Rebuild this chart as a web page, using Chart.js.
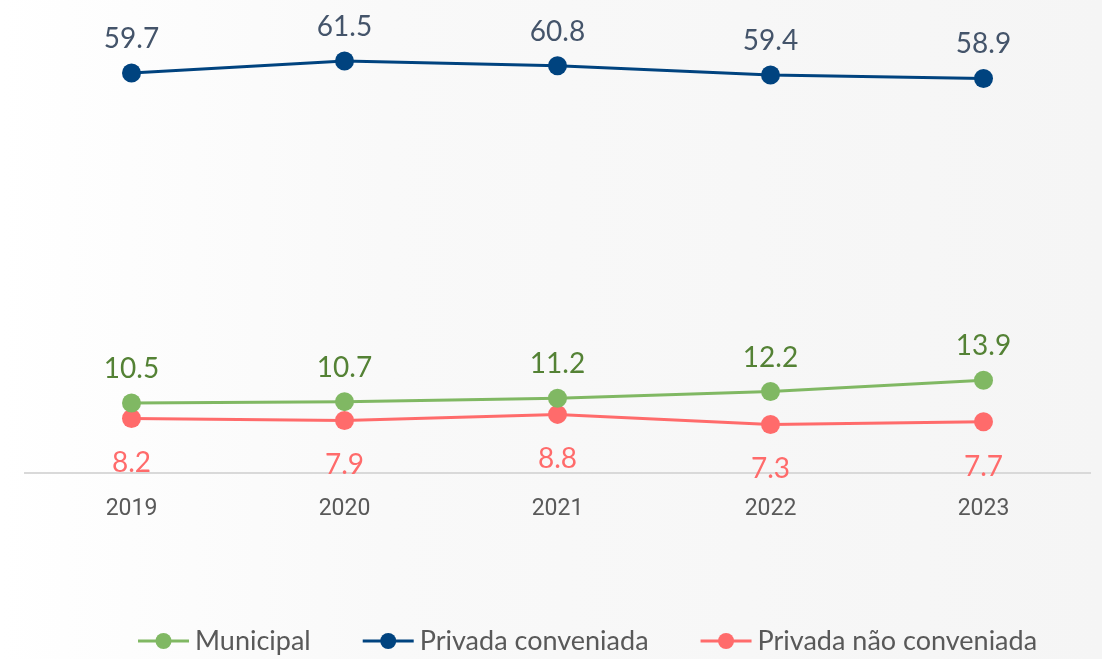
<!DOCTYPE html>
<html>
<head>
<meta charset="utf-8">
<script src="https://cdn.jsdelivr.net/npm/chart.js@4"></script>
<style>
  html, body { margin: 0; padding: 0; }
  body { width: 1102px; height: 659px; background: linear-gradient(90deg, #ffffff 0%, #f9f9f9 35%, #f5f5f5 100%); }
  #wrap { position: relative; width: 1102px; height: 659px; }
</style>
</head>
<body>
<div id="wrap"><canvas id="chart"></canvas></div>
<script>
const years = ['2019', '2020', '2021', '2022', '2023'];
const municipal = [10.5, 10.7, 11.2, 12.2, 13.9];
const privadaConveniada = [59.7, 61.5, 60.8, 59.4, 58.9];
const privadaNaoConveniada = [8.2, 7.9, 8.8, 7.3, 7.7];

const series = [
  { label: 'Municipal', data: municipal, line: '#80b863', text: '#548235', above: true },
  { label: 'Privada conveniada', data: privadaConveniada, line: '#00437f', text: '#44546a', above: true },
  { label: 'Privada não conveniada', data: privadaNaoConveniada, line: '#ff6b6b', text: '#ff6b6b', above: false },
];

// value labels above / below each point
const valueLabels = {
  id: 'valueLabels',
  afterDatasetsDraw(chart) {
    const { ctx } = chart;
    ctx.save();
    ctx.font = '28px Lato, "Open Sans", sans-serif';
    ctx.textAlign = 'center';
    ctx.textBaseline = 'middle';
    chart.data.datasets.forEach((ds, i) => {
      const meta = chart.getDatasetMeta(i);
      ctx.fillStyle = series[i].text;
      meta.data.forEach((pt, j) => {
        const y = series[i].above ? pt.y - 34 : pt.y + 45;
        ctx.fillText(ds.data[j].toFixed(1), pt.x, y);
      });
    });
    ctx.restore();
  },
};

// legend drawn as line + dot markers at the bottom
const lineLegend = {
  id: 'lineLegend',
  afterDraw(chart) {
    const { ctx } = chart;
    ctx.save();
    ctx.font = '27px Lato, "Open Sans", sans-serif';
    ctx.textBaseline = 'middle';
    let x = 138;
    const y = 641;
    series.forEach((s) => {
      ctx.strokeStyle = s.line;
      ctx.lineWidth = 3;
      ctx.beginPath();
      ctx.moveTo(x, y);
      ctx.lineTo(x + 51, y);
      ctx.stroke();
      ctx.fillStyle = s.line;
      ctx.beginPath();
      ctx.arc(x + 25.5, y, 8, 0, Math.PI * 2);
      ctx.fill();
      ctx.fillStyle = '#595959';
      ctx.fillText(s.label, x + 57, y);
      x += 57 + ctx.measureText(s.label).width + 52;
    });
    ctx.restore();
  },
};

const config = {
  type: 'line',
  data: {
    labels: years,
    datasets: series.map((s) => ({
      label: s.label,
      data: s.data,
      borderColor: s.line,
      backgroundColor: s.line,
      borderWidth: 3,
      pointRadius: 9.5,
      pointHoverRadius: 9.5,
      pointBorderWidth: 0,
      tension: 0,
    })),
  },
  options: {
    responsive: true,
    maintainAspectRatio: false,
    animation: false,
    layout: {
      autoPadding: false,
      padding: { top: 4, left: 25, right: 12, bottom: 122 },
    },
    scales: {
      x: {
        offset: true,
        grid: { display: false },
        border: { display: true, color: '#d9d9d9', width: 2 },
        ticks: {
          color: '#595959',
          padding: 14,
          font: { family: '"Liberation Sans Narrow", "Arial Narrow", Roboto, sans-serif', size: 23 },
        },
      },
      y: {
        display: false,
        min: 0,
        max: 70,
      },
    },
    plugins: {
      legend: { display: false },
      tooltip: { enabled: false },
    },
  },
  plugins: [valueLabels, lineLegend],
};

new Chart(document.getElementById('chart'), config);
</script>
</body>
</html>
